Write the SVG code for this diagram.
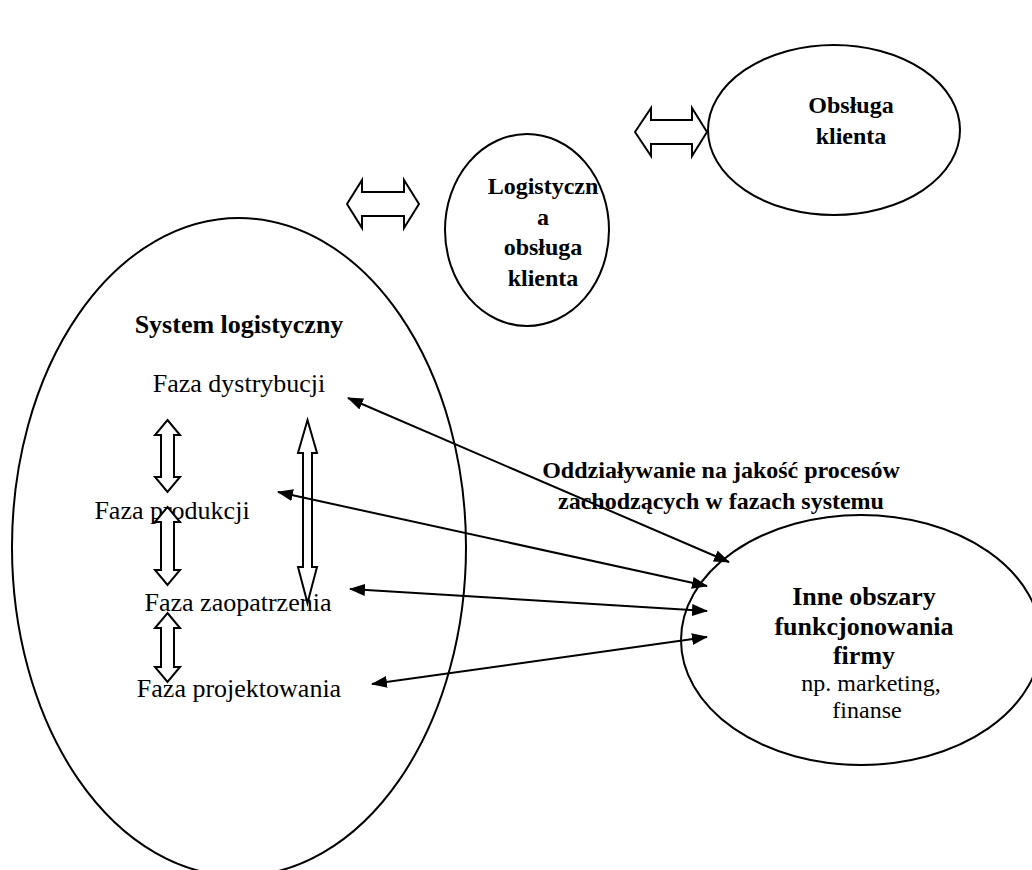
<svg xmlns="http://www.w3.org/2000/svg" width="1032" height="870" viewBox="0 0 1032 870">
<style>
.shape{fill:none;stroke:#000;stroke-width:2}
.blk{fill:#fff;stroke:#000;stroke-width:2;stroke-linejoin:miter}
.t{font-family:"Liberation Serif","Times New Roman",serif;font-size:26px;fill:#000;text-anchor:middle}
.b{font-weight:bold}
.m{font-size:24px}
.ln{stroke:#000;stroke-width:2;fill:none;marker-start:url(#ah);marker-end:url(#ah)}
</style>
<defs>
<marker id="ah" viewBox="0 0 16 12" refX="15" refY="6" markerWidth="16" markerHeight="12" markerUnits="userSpaceOnUse" orient="auto-start-reverse">
<path d="M0,0 L16,6 L0,12 z" fill="#000"/>
</marker>
</defs>
<rect width="1032" height="870" fill="#fff"/>

<g id="system-logistyczny">
<ellipse class="shape" cx="239" cy="547" rx="227" ry="329"/>
<text class="t b" x="239" y="333">System logistyczny</text>
</g>
<g id="faza-dystrybucji"><text class="t" x="239" y="392">Faza dystrybucji</text></g>
<g id="faza-produkcji"><text class="t" x="172" y="519">Faza produkcji</text></g>
<g id="faza-zaopatrzenia"><text class="t" x="238" y="611">Faza zaopatrzenia</text></g>
<g id="faza-projektowania"><text class="t" x="239" y="697">Faza projektowania</text></g>

<g id="logistyczna-obsluga">
<ellipse class="shape" cx="527" cy="230" rx="82" ry="96"/>
<text class="t b m" x="543" y="194">Logistyczn</text>
<text class="t b m" x="543" y="225">a</text>
<text class="t b m" x="543" y="255">obsługa</text>
<text class="t b m" x="543" y="286">klienta</text>
</g>

<g id="obsluga-klienta">
<ellipse class="shape" cx="834" cy="130" rx="126" ry="85"/>
<text class="t b m" x="851" y="113">Obsługa</text>
<text class="t b m" x="851" y="144">klienta</text>
</g>

<g id="inne-obszary">
<ellipse class="shape" cx="861" cy="640" rx="180" ry="125"/>
<text class="t b" x="864" y="605">Inne obszary</text>
<text class="t b" x="864" y="635">funkcjonowania</text>
<text class="t b" x="864" y="664">firmy</text>
<text class="t m" x="871" y="691">np. marketing,</text>
<text class="t m" x="867" y="718">finanse</text>
</g>

<g id="label-oddzialywanie">
<text class="t b m" x="721" y="478">Oddziaływanie na jakość procesów</text>
<text class="t b m" x="721" y="509">zachodzących w fazach systemu</text>
</g>

<g id="connectors">
<polygon class="blk" points="347,204 362,180 362,192 404,192 404,180 419,204 404,228 404,216 362,216 362,228"/>
<polygon class="blk" points="635,132 651,108 651,120 692,120 692,108 707,132 692,156 692,144 651,144 651,156"/>
<polygon class="blk" points="167.5,420 180,435 174,435 174,477 180,477 167.5,492 155,477 161,477 161,435 155,435"/>
<polygon class="blk" points="167.5,507 180,522 174,522 174,570 180,570 167.5,585 155,570 161,570 161,522 155,522"/>
<polygon class="blk" points="167.5,613 180,628 174,628 174,667 180,667 167.5,682 155,667 161,667 161,628 155,628"/>
<polygon class="blk" points="307.5,420 317,453 312,453 312,567 317,567 307.5,603 298,567 303,567 303,453 298,453"/>
<line class="ln" x1="348" y1="398" x2="729" y2="562"/>
<line class="ln" x1="278" y1="492" x2="707" y2="586"/>
<line class="ln" x1="350" y1="589" x2="707" y2="611"/>
<line class="ln" x1="372" y1="684" x2="707" y2="637"/>
</g>
</svg>
